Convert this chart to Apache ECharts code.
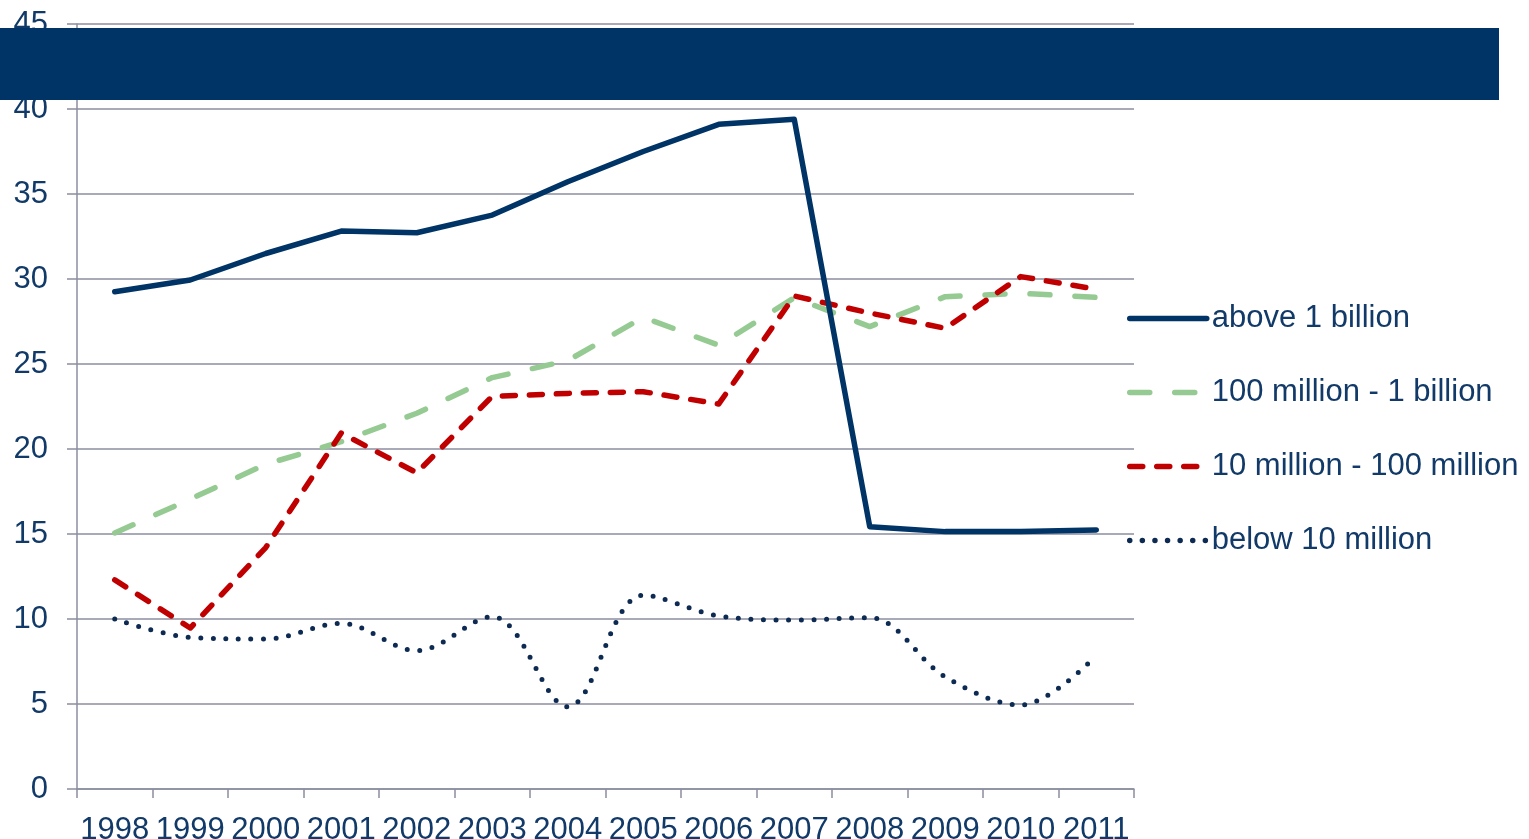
<!DOCTYPE html>
<html>
<head>
<meta charset="utf-8">
<script src="https://cdn.jsdelivr.net/npm/echarts@6/dist/echarts.min.js"></script>
<style>
html,body{margin:0;padding:0;background:#fff;}
#chart{width:1529px;height:839px;}
</style>
</head>
<body>
<div id="chart"></div>
<script>
const categories = ['1998','1999','2000','2001','2002','2003','2004','2005','2006','2007','2008','2009','2010','2011'];
const seriesNames = ['above 1 billion','100 million - 1 billion','10 million - 100 million','below 10 million'];
const above1Billion = [29.25, 29.94, 31.5, 32.82, 32.72, 33.76, 35.72, 37.5, 39.1, 39.4, 15.43, 15.14, 15.14, 15.24];
const m100to1b = [15.06, 17.05, 19.1, 20.43, 22.1, 24.2, 25.2, 27.75, 26.1, 28.9, 27.2, 28.96, 29.16, 28.92];
const m10to100m = [12.3, 9.47, 14.2, 20.94, 18.6, 23.1, 23.27, 23.37, 22.65, 29.0, 28.0, 27.1, 30.14, 29.4];
const below10m = [10.0, 8.92, 8.82, 9.75, 8.14, 10.14, 4.84, 11.4, 10.18, 9.94, 10.08, 6.6, 4.94, 7.85];

const textColor = '#123a68';
const gridColor = '#8b8e9f';
const font = '"Liberation Sans", Arial, sans-serif';

const chart = echarts.init(document.getElementById('chart'));
chart.setOption({
  animation: false,
  backgroundColor: '#ffffff',
  grid: { left: 77, right: 395, top: 24, bottom: 50, containLabel: false, outerBoundsMode: 'none' },
  legend: {
    orient: 'vertical',
    left: 1127,
    top: 303,
    padding: 0,
    itemWidth: 77,
    itemHeight: 14,
    itemGap: 43,
    itemStyle: { color: 'transparent', borderWidth: 0, opacity: 0 },
    lineStyle: { width: 5.5, cap: 'round' },
    textStyle: { color: textColor, fontSize: 31, fontFamily: font, lineHeight: 30 },
    data: seriesNames
  },
  xAxis: {
    type: 'category',
    data: categories,
    boundaryGap: true,
    axisLine: { lineStyle: { color: gridColor, width: 1.5 } },
    axisTick: { show: true, length: 9, lineStyle: { color: gridColor, width: 1.5 } },
    axisLabel: { color: textColor, fontSize: 31, fontFamily: font, margin: 26, interval: 0 },
    splitLine: { show: false }
  },
  yAxis: {
    type: 'value',
    min: 0, max: 45, interval: 5,
    axisLine: { show: true, lineStyle: { color: gridColor, width: 1.5 } },
    axisTick: { show: true, length: 10, lineStyle: { color: gridColor, width: 1.5 } },
    axisLabel: { color: textColor, fontSize: 31, fontFamily: font, margin: 29, padding: [4, 0, 0, 0] },
    splitLine: { show: true, lineStyle: { color: gridColor, width: 1.5 } }
  },
  series: [
    {
      name: seriesNames[0], type: 'line', data: above1Billion, symbol: 'none',
      lineStyle: { color: '#003466', width: 5.5, cap: 'round', join: 'round' },
      itemStyle: { color: '#003466' }, z: 5
    },
    {
      name: seriesNames[1], type: 'line', data: m100to1b, symbol: 'none',
      lineStyle: { color: '#95cb92', width: 5.5, type: [20, 25], cap: 'round', join: 'round' },
      itemStyle: { color: '#95cb92' }, z: 3
    },
    {
      name: seriesNames[2], type: 'line', data: m10to100m, symbol: 'none',
      lineStyle: { color: '#c00000', width: 5.5, type: [13, 14], cap: 'round', join: 'round' },
      itemStyle: { color: '#c00000' }, z: 4
    },
    {
      name: seriesNames[3], type: 'line', data: below10m, symbol: 'none', smooth: 0.35,
      lineStyle: { color: '#0c2a52', width: 5, type: [0, 12.6], cap: 'round', join: 'round' },
      itemStyle: { color: '#0c2a52' }, z: 4
    }
  ],
  graphic: [
    {
      type: 'rect', left: 0, top: 28, z: 100,
      shape: { width: 1499, height: 72 },
      style: { fill: '#003466' }
    }
  ]
});
</script>
</body>
</html>
